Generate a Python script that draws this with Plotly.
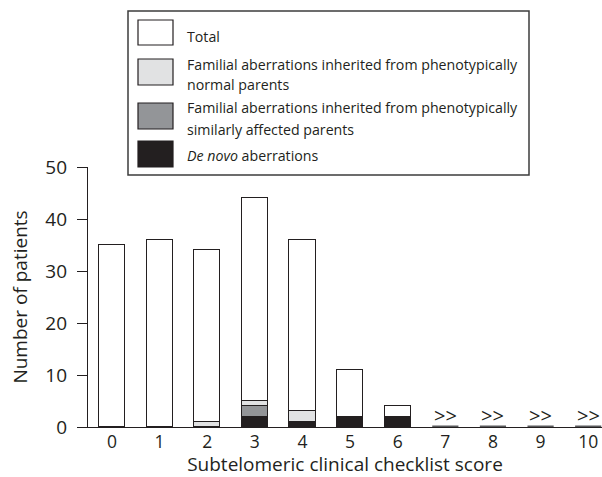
import plotly.graph_objects as go

# ---- data ----
scores = [0, 1, 2, 3, 4, 5, 6, 7, 8, 9, 10]
total = [35, 36, 34, 44, 36, 11, 4, 0, 0, 0, 0]
normal_parents = [0, 0, 1, 1, 2, 0, 0, 0, 0, 0, 0]
affected_parents = [0, 0, 0, 2, 0, 0, 0, 0, 0, 0, 0]
de_novo = [0, 0, 0, 2, 1, 2, 2, 0, 0, 0, 0]
y_ticks = [0, 10, 20, 30, 40, 50]

legend_labels = [
    ["Total"],
    ["Familial aberrations inherited from phenotypically", "normal parents"],
    ["Familial aberrations inherited from phenotypically", "similarly affected parents"],
    ["<i>De novo</i> aberrations"],
]

# ---- style ----
INK = "#231f20"
C_TOTAL = "#ffffff"
C_NORMAL = "#e1e2e3"
C_AFFECTED = "#939598"
C_DENOVO = "#231f20"
FONT = "Open Sans"
W, H = 602, 477
L, R, T, B = 88, 0, 167, 50
BW = 0.55


def nz(v):
    return [x if x else None for x in v]


rest = [t - a - b - c for t, a, b, c in zip(total, normal_parents, affected_parents, de_novo)]

fig = go.Figure()
line = dict(color=INK, width=1.3)
for vals, col in [(de_novo, C_DENOVO), (affected_parents, C_AFFECTED),
                  (normal_parents, C_NORMAL), (rest, C_TOTAL)]:
    fig.add_trace(go.Bar(x=scores, y=nz(vals), width=BW, marker=dict(color=col, line=line),
                         showlegend=False, hoverinfo="skip"))

# zero-count scores: grey stub on the baseline with ">>" marker
zx, zy = [], []
for s, t in zip(scores, total):
    if t == 0:
        zx += [s - BW / 2, s + BW / 2, None]
        zy += [0, 0, None]
fig.add_trace(go.Scatter(x=zx, y=zy, mode="lines", line=dict(color="#58595b", width=3),
                         showlegend=False, hoverinfo="skip", cliponaxis=False))

annotations = []
for s, t in zip(scores, total):
    if t == 0:
        annotations.append(dict(x=s, y=0, xref="x", yref="y", text="&gt;&gt;", showarrow=False,
                                yanchor="middle", yshift=12, font=dict(family=FONT, size=20, color=INK)))

pw, ph = W - L - R, H - T - B


def px(x):
    return (x - L) / pw


def py(y):
    return (H - B - y) / ph


shapes = [dict(type="rect", xref="paper", yref="paper", x0=px(128), x1=px(529), y0=py(175), y1=py(11),
               line=dict(color="#3c3c3c", width=1.5), fillcolor="white", layer="below")]
sw_y = [(20, 45), (59, 85), (103, 129), (141, 167)]
sw_c = [C_TOTAL, C_NORMAL, C_AFFECTED, C_DENOVO]
text_y = [[36], [64, 84], [108, 129], [156]]
for (a, b), c, labels, ys in zip(sw_y, sw_c, legend_labels, text_y):
    shapes.append(dict(type="rect", xref="paper", yref="paper", x0=px(138), x1=px(173),
                       y0=py(b), y1=py(a), line=dict(color=INK, width=1.2), fillcolor=c))
    for lab, yy in zip(labels, ys):
        annotations.append(dict(x=px(185), y=py(yy), xref="paper", yref="paper", text=lab,
                                showarrow=False, xanchor="left", yanchor="middle",
                                font=dict(family=FONT, size=14.2, color=INK)))

fig.update_layout(
    width=W, height=H, margin=dict(l=L, r=R, t=T, b=B, pad=0),
    paper_bgcolor="white", plot_bgcolor="white", barmode="stack", bargap=0,
    font=dict(family=FONT, color=INK),
    shapes=shapes, annotations=annotations,
    xaxis=dict(range=[-0.504, 10.29], tickvals=scores, showline=True, linecolor=INK, linewidth=1.3,
               ticks="", showgrid=False, zeroline=False, tickfont=dict(size=17.5, color=INK),
               ticklabelstandoff=-1,
               title=dict(text="Subtelomeric clinical checklist score", font=dict(size=19, color=INK),
                          standoff=5)),
    yaxis=dict(range=[0, 50], tickvals=y_ticks, showline=True, linecolor=INK, linewidth=1.3,
               ticks="outside", ticklen=10, tickcolor=INK, tickwidth=1.3, showgrid=False,
               zeroline=False, tickfont=dict(size=19, color=INK), ticklabelstandoff=6,
               title=dict(text="Number of patients", font=dict(size=19, color=INK), standoff=12)),
)

fig.write_html("out.html")
